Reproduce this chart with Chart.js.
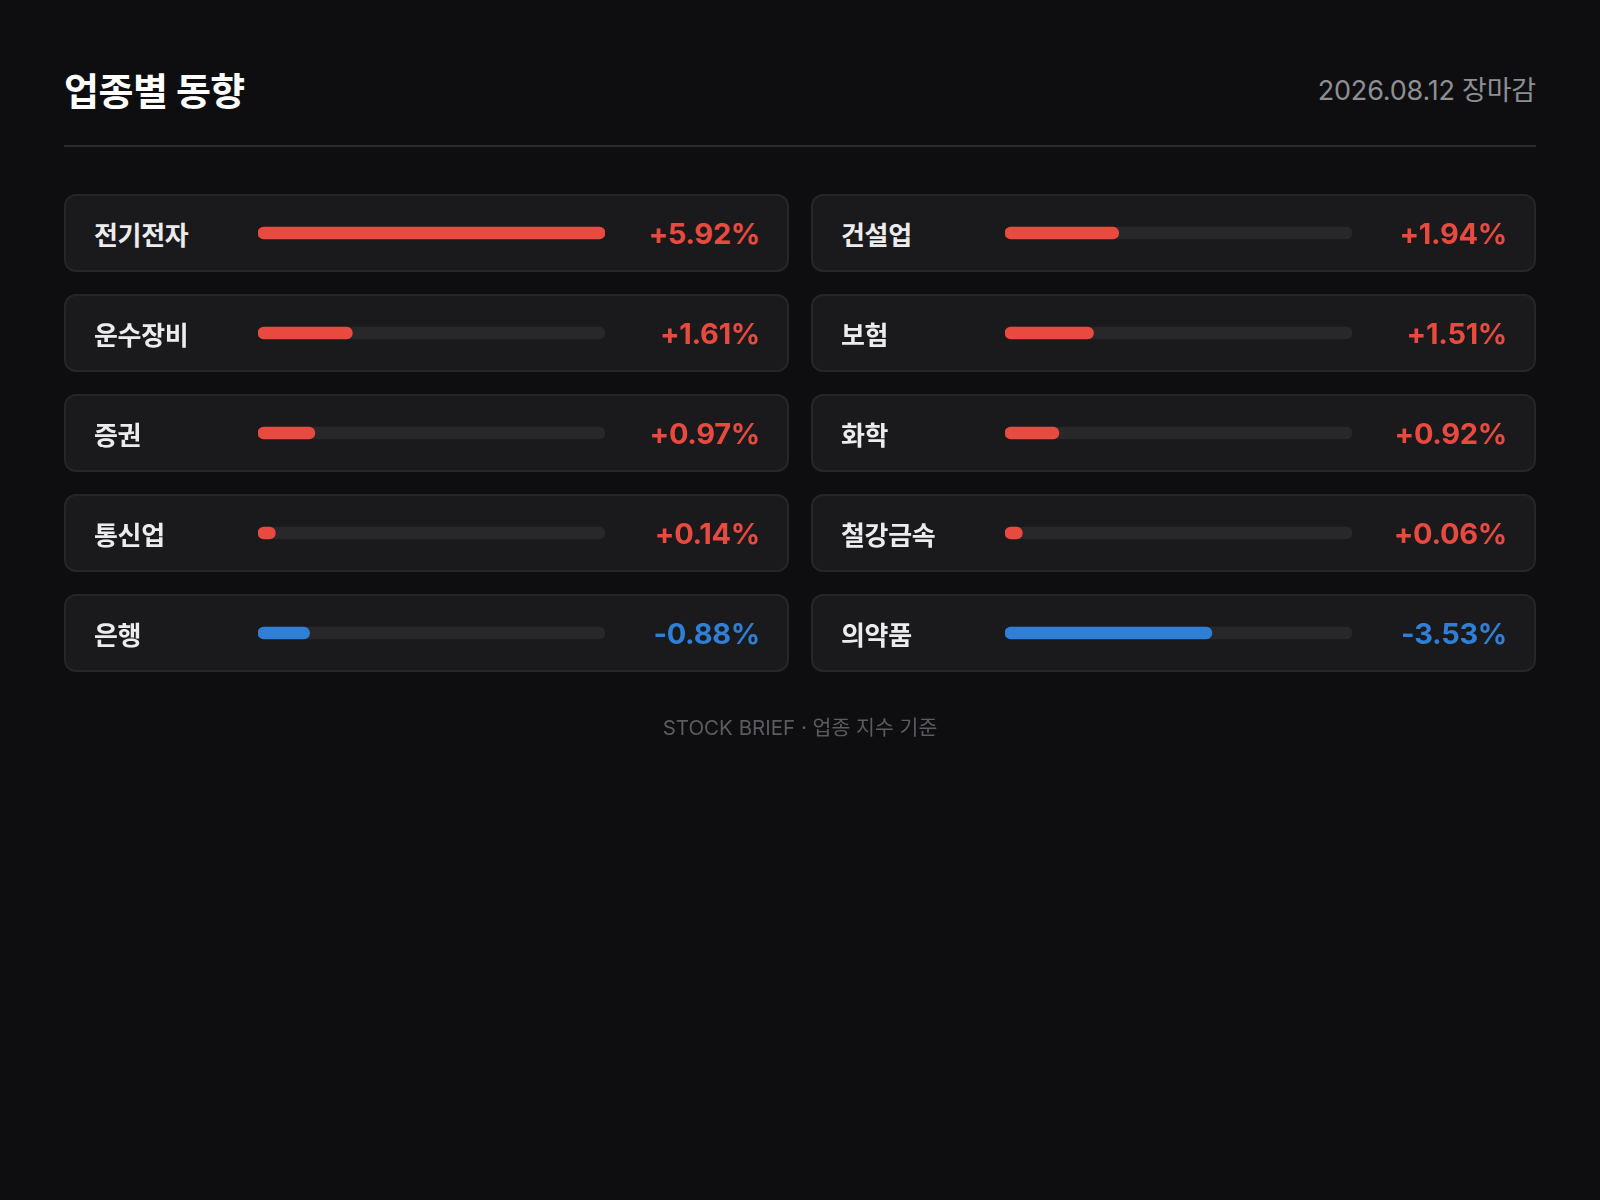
<!DOCTYPE html>
<html lang="ko">
<head>
<meta charset="utf-8">
<title>업종별 동향</title>
<script src="https://cdn.jsdelivr.net/npm/chart.js@4/dist/chart.umd.min.js"></script>
<style>
    * { box-sizing: border-box; }
    body {
        margin: 0;
        width: 1600px;
        height: 1200px;
        background: #0e0e10;
        font-family: "Inter", "Noto Sans CJK KR", sans-serif;
    }
    .wrap {
        position: absolute;
        left: 64px;
        top: 0;
        width: 1472px;
    }
    .header {
        display: flex;
        justify-content: space-between;
        align-items: center;
        height: 147px;
        padding-top: 31px;
        border-bottom: 2px solid #2a2a2d;
    }
    .header h1 {
        margin: 0;
        font-size: 38px;
        font-weight: 700;
        color: #ffffff;
        letter-spacing: -0.5px;
    }
    .header .date {
        font-size: 27px;
        color: #8e8e93;
        letter-spacing: -0.2px;
    }
    .grid {
        margin-top: 47px;
        display: grid;
        grid-template-columns: 1fr 1fr;
        column-gap: 22px;
        row-gap: 22px;
    }
    .card {
        height: 78px;
        background: #1a1a1c;
        border: 2px solid #262628;
        border-radius: 12px;
        display: flex;
        align-items: center;
        padding: 0 27px 0 28px;
    }
    .card .name {
        width: 164px;
        font-size: 26px;
        font-weight: 600;
        color: #ececef;
        letter-spacing: -0.3px;
    }
    .card canvas {
        display: block;
    }
    .card .val {
        flex: 1;
        text-align: right;
        font-size: 29px;
        font-weight: 700;
        letter-spacing: -0.3px;
    }
    .footer {
        margin-top: 39px;
        text-align: center;
        font-size: 20.5px;
        color: #5c5c60;
    }
</style>
</head>
<body>
<div class="wrap">
    <div class="header">
        <h1 id="titulo"></h1>
        <div class="date" id="fecha"></div>
    </div>
    <div class="grid" id="grid"></div>
    <div class="footer" id="pie"></div>
</div>
<script>
const titulo = '업종별 동향'
const fecha = '2026.08.12 장마감'
const pie = 'STOCK BRIEF · 업종 지수 기준'

// 업종명 / 등락률(%)
const sectores = ['전기전자', '건설업', '운수장비', '보험', '증권', '화학', '통신업', '철강금속', '은행', '의약품']
const cambios = [5.92, 1.94, 1.61, 1.51, 0.97, 0.92, 0.14, 0.06, -0.88, -3.53]

const ROJO = '#e84a3f'
const AZUL = '#2f7fd6'
const PISTA = '#28282b'

document.getElementById('titulo').textContent = titulo
document.getElementById('fecha').textContent = fecha
document.getElementById('pie').textContent = pie

const grid = document.getElementById('grid')
const maxAbs = Math.max(...cambios.map(v => Math.abs(v)))

const formato = (v) => (v >= 0 ? '+' : '-') + Math.abs(v).toFixed(2) + '%'

sectores.forEach((nombre, i) => {
    const valor = cambios[i]
    const color = valor >= 0 ? ROJO : AZUL

    const card = document.createElement('div')
    card.className = 'card'

    const etiqueta = document.createElement('div')
    etiqueta.className = 'name'
    etiqueta.textContent = nombre

    const canvas = document.createElement('canvas')
    canvas.width = 347
    canvas.height = 20

    const texto = document.createElement('div')
    texto.className = 'val'
    texto.style.color = color
    texto.textContent = formato(valor)

    card.appendChild(etiqueta)
    card.appendChild(canvas)
    card.appendChild(texto)
    grid.appendChild(card)

    new Chart(canvas.getContext('2d'), {
        type : 'bar',
        data : {
            labels : [nombre],
            datasets : [
                {
                    label : nombre,
                    data : [Math.max(Math.abs(valor), maxAbs * 0.05)],
                    backgroundColor : color,
                    borderRadius : 6,
                    borderSkipped : false,
                    barThickness : 12,
                    grouped : false,
                    order : 0
                },
                {
                    label : 'track',
                    data : [maxAbs],
                    backgroundColor : PISTA,
                    borderRadius : 6,
                    borderSkipped : false,
                    barThickness : 12,
                    grouped : false,
                    order : 1
                }
            ]
        },
        options : {
            indexAxis : 'y',
            responsive : false,
            animation : false,
            layout : { padding : 0 },
            plugins : {
                legend : { display : false },
                tooltip : { enabled : false }
            },
            scales : {
                x : { display : false, min : 0, max : maxAbs },
                y : { display : false }
            }
        }
    })
})
</script>
</body>
</html>
